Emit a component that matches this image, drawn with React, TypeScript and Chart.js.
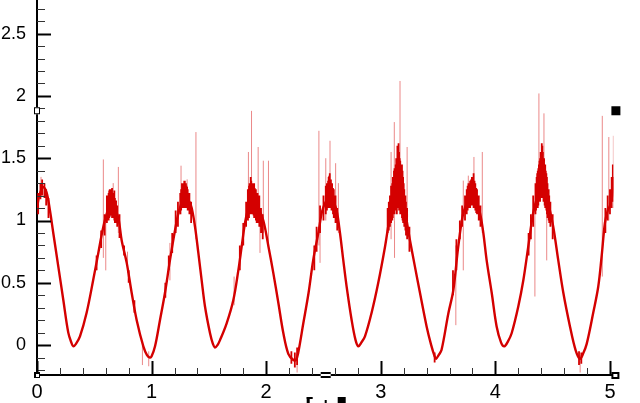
import React, { useEffect, useRef } from "react";
import { Chart, registerables } from "chart.js";

Chart.register(...registerables);

// ---- Data ----
const curveX = [
  0.0, 0.02, 0.055, 0.085, 0.113, 0.142, 0.186, 0.23, 0.273, 0.3, 0.317, 0.34, 0.375, 0.433, 0.49, 0.535, 0.579,
  0.622, 0.652, 0.68, 0.71, 0.739, 0.783, 0.826, 0.87, 0.928, 0.96, 0.985, 1.0, 1.03, 1.073, 1.117, 1.16, 1.204,
  1.24, 1.29, 1.33, 1.35, 1.379, 1.408, 1.437, 1.466, 1.51, 1.535, 1.553, 1.575, 1.597, 1.655, 1.713, 1.757, 1.786,
  1.815, 1.845, 1.873, 1.905, 1.93, 1.975, 2.02, 2.062, 2.106, 2.15, 2.193, 2.237, 2.26, 2.28, 2.324, 2.37, 2.41,
  2.455, 2.49, 2.53, 2.557, 2.585, 2.615, 2.644, 2.673, 2.702, 2.746, 2.78, 2.804, 2.83, 2.862, 2.92, 2.978, 3.037,
  3.08, 3.12, 3.153, 3.185, 3.21, 3.255, 3.298, 3.342, 3.4, 3.44, 3.47, 3.482, 3.505, 3.53, 3.59, 3.633, 3.676,
  3.72, 3.764, 3.807, 3.84, 3.866, 3.895, 3.924, 3.968, 4.011, 4.05, 4.078, 4.11, 4.142, 4.2, 4.244, 4.287, 4.33,
  4.375, 4.41, 4.44, 4.462, 4.505, 4.549, 4.593, 4.651, 4.7, 4.738, 4.765, 4.797, 4.854, 4.898, 4.927, 4.956, 4.98,
  5.0, 5.02, 5.03,
];
const curveY = [
  1.1, 1.2, 1.27, 1.22, 1.08, 0.9, 0.63, 0.36, 0.1, 0.02, -0.01, 0.01, 0.07, 0.26, 0.52, 0.74, 0.95,
  1.09, 1.12, 1.09, 1.02, 0.84, 0.66, 0.42, 0.2, -0.01, -0.08, -0.1, -0.09, -0.01, 0.2, 0.42, 0.68, 0.92,
  1.08, 1.19, 1.15, 1.1, 0.95, 0.74, 0.52, 0.31, 0.095, 0.01, -0.02, 0.0, 0.04, 0.175, 0.36, 0.6, 0.79,
  0.98, 1.1, 1.14, 1.12, 1.1, 1.0, 0.79, 0.58, 0.34, 0.095, -0.07, -0.12, -0.12, -0.06, 0.175, 0.42, 0.68,
  0.9, 1.08, 1.17, 1.21, 1.16, 1.08, 0.9, 0.68, 0.47, 0.2, 0.04, -0.01, 0.02, 0.07, 0.26, 0.5, 0.79,
  1.03, 1.17, 1.22, 1.17, 1.08, 0.84, 0.63, 0.42, 0.15, 0.0, -0.09, -0.11, -0.08, -0.04, 0.256, 0.44, 0.79,
  1.06, 1.16, 1.19, 1.13, 1.06, 0.9, 0.68, 0.42, 0.15, 0.02, -0.01, 0.03, 0.095, 0.31, 0.52, 0.79, 1.06,
  1.22, 1.3, 1.22, 1.14, 0.95, 0.68, 0.42, 0.15, -0.04, -0.11, -0.07, 0.01, 0.26, 0.47, 0.71, 0.98, 1.08,
  1.12, 1.2, 1.35,
];

// dense noise band (short dark strokes)
const fuzzX = [
  0.01, 0.03, 0.045, 0.065, 0.08, 0.1,
  0.52, 0.56, 0.59, 0.61, 0.625, 0.635, 0.645, 0.655, 0.665, 0.675, 0.69, 0.7, 0.72, 0.76, 0.8, 0.85,
  1.12, 1.15, 1.18, 1.21, 1.23, 1.25, 1.265, 1.275, 1.285, 1.295, 1.305, 1.315, 1.33, 1.345,
  1.77, 1.8, 1.825, 1.84, 1.855, 1.865, 1.875, 1.885, 1.895, 1.91, 1.925, 1.94, 1.955, 1.97,
  2.22, 2.25, 2.27, 2.42, 2.44, 2.47, 2.5, 2.52, 2.535, 2.545, 2.555, 2.565, 2.575, 2.59, 2.605, 2.62,
  3.06, 3.08, 3.1, 3.115, 3.13, 3.14, 3.15, 3.16, 3.17, 3.18, 3.19, 3.2, 3.215, 3.23, 3.25,
  3.47, 3.63, 3.66, 3.69, 3.71, 3.735, 3.75, 3.765, 3.78, 3.795, 3.81, 3.825, 3.84, 3.855, 3.87,
  4.29, 4.31, 4.33, 4.35, 4.36, 4.37, 4.38, 4.39, 4.4, 4.41, 4.42, 4.43, 4.44, 4.45, 4.465, 4.48, 4.5,
  4.73, 4.75, 4.96, 4.98, 5.0, 5.015, 5.025,
  3.07, 3.09, 3.105, 3.12, 3.135, 3.145, 3.155, 3.165, 3.175, 3.185, 3.195, 3.205, 3.22,
  4.355, 4.365, 4.375, 4.385, 4.395, 4.405, 4.415, 4.425, 4.435, 4.445, 4.455, 4.47,
  1.85, 1.86, 1.87, 1.88, 1.89, 1.9, 1.917,
  2.53, 2.54, 2.55, 2.56, 2.57, 2.583,
  3.758, 3.772, 3.788, 3.803, 3.818, 3.833,
  1.258, 1.27, 1.28, 1.29, 1.3, 1.31,
  0.618, 0.63, 0.64, 0.65, 0.66, 0.67, 0.68,
];
const fuzzLo = [
  1.05, 1.17, 1.2, 1.18, 1.12, 1.02,
  0.6, 0.78, 0.88, 0.98, 1.0, 1.03, 1.05, 1.02, 1.04, 1.0, 0.98, 0.95, 0.86, 0.72, 0.5, 0.26,
  0.38, 0.6, 0.74, 0.9, 0.95, 1.05, 1.1, 1.12, 1.1, 1.12, 1.1, 1.08, 1.05, 0.98,
  0.6, 0.8, 0.95, 1.0, 1.05, 1.08, 1.05, 1.06, 1.02, 1.0, 0.98, 0.95, 0.9, 0.85,
  -0.15, -0.18, -0.16, 0.6, 0.75, 0.9, 1.0, 1.05, 1.1, 1.12, 1.1, 1.12, 1.08, 1.02, 0.98, 0.92,
  0.9, 0.95, 1.0, 1.05, 1.08, 1.05, 1.1, 1.08, 1.05, 1.05, 1.0, 0.98, 0.92, 0.85, 0.75,
  -0.14, 0.4, 0.6, 0.85, 0.95, 1.0, 1.05, 1.1, 1.1, 1.12, 1.1, 1.08, 1.05, 1.0, 0.95,
  0.72, 0.85, 0.95, 1.05, 1.1, 1.1, 1.15, 1.15, 1.2, 1.18, 1.15, 1.12, 1.1, 1.05, 1.0, 0.95, 0.85,
  -0.16, -0.15, 0.9, 1.0, 1.05, 1.1, 1.15,
  0.92, 0.98, 1.02, 1.05, 1.08, 1.1, 1.12, 1.1, 1.05, 1.02, 0.98, 0.95, 0.88,
  1.08, 1.12, 1.12, 1.15, 1.18, 1.2, 1.18, 1.15, 1.1, 1.08, 1.02, 0.98,
  1.02, 1.05, 1.08, 1.06, 1.04, 1.02, 0.98,
  1.08, 1.1, 1.12, 1.1, 1.08, 1.05,
  1.08, 1.1, 1.12, 1.12, 1.1, 1.06,
  1.08, 1.1, 1.12, 1.12, 1.1, 1.1,
  1.0, 1.02, 1.04, 1.04, 1.03, 1.02, 0.98,
];
const fuzzHi = [
  1.22, 1.3, 1.33, 1.3, 1.25, 1.18,
  0.72, 0.92, 1.05, 1.2, 1.22, 1.25, 1.2, 1.26, 1.22, 1.24, 1.16, 1.12, 1.05, 0.8, 0.6, 0.36,
  0.5, 0.72, 0.9, 1.08, 1.15, 1.22, 1.3, 1.28, 1.32, 1.3, 1.28, 1.25, 1.22, 1.15,
  0.8, 0.98, 1.15, 1.25, 1.3, 1.35, 1.3, 1.28, 1.3, 1.25, 1.22, 1.2, 1.1, 1.05,
  -0.05, -0.06, -0.02, 0.8, 0.95, 1.12, 1.2, 1.28, 1.3, 1.35, 1.38, 1.33, 1.3, 1.25, 1.2, 1.1,
  1.1, 1.2, 1.3, 1.4, 1.45, 1.5, 1.52, 1.55, 1.48, 1.42, 1.4, 1.3, 1.2, 1.1, 0.95,
  -0.06, 0.6, 0.85, 1.0, 1.12, 1.2, 1.25, 1.3, 1.32, 1.35, 1.38, 1.3, 1.25, 1.2, 1.12,
  0.9, 1.05, 1.2, 1.3, 1.35, 1.4, 1.45, 1.5, 1.55, 1.6, 1.5, 1.45, 1.4, 1.35, 1.25, 1.15, 1.05,
  -0.05, -0.06, 1.1, 1.2, 1.25, 1.35, 1.45,
  1.15, 1.28, 1.35, 1.42, 1.5, 1.6, 1.62, 1.5, 1.45, 1.45, 1.35, 1.25, 1.15,
  1.3, 1.38, 1.42, 1.48, 1.55, 1.62, 1.55, 1.5, 1.45, 1.38, 1.3, 1.2,
  1.28, 1.3, 1.32, 1.3, 1.28, 1.26, 1.22,
  1.3, 1.32, 1.36, 1.33, 1.3, 1.26,
  1.28, 1.3, 1.33, 1.35, 1.32, 1.26,
  1.25, 1.3, 1.3, 1.32, 1.3, 1.27,
  1.2, 1.24, 1.22, 1.25, 1.22, 1.22, 1.18,
];

// isolated thin spikes (light strokes)
const spikeX = [
  0.035, 0.579, 0.6, 0.665, 0.71, 0.79, 0.92, 0.975, 1.16, 1.257, 1.31, 1.387, 1.72, 1.845, 1.872, 1.93, 1.946,
  1.975, 2.02, 2.27, 2.46, 2.47, 2.52, 2.557, 2.606, 2.63, 3.09, 3.118, 3.12, 3.168, 3.23, 3.655, 3.72, 3.764,
  3.813, 3.886, 4.345, 4.38, 4.424, 4.448, 4.74, 4.933, 4.99, 5.03,
];
const spikeLo = [
  1.2, 0.7, 0.6, 1.05, 0.9, 0.58, -0.16, -0.17, 0.52, 1.05, 1.1, 0.85, 0.32, 1.0, 1.1, 1.0, 0.74,
  0.9, 0.79, -0.22, 0.8, 0.66, 1.0, 1.15, 1.0, 0.9, 0.85, 1.0, 0.7, 1.2, 1.0, 0.16, 0.6, 1.1,
  1.1, 0.9, 0.39, 1.2, 1.2, 0.68, -0.22, 0.55, 1.0, 1.1,
];
const spikeHi = [
  1.35, 1.49, 1.0, 1.3, 1.43, 0.75, 0.0, -0.05, 0.82, 1.44, 1.33, 1.71, 0.55, 1.55, 1.88, 1.59, 1.1,
  1.48, 1.48, -0.05, 1.72, 1.0, 1.5, 1.64, 1.46, 1.3, 1.55, 1.79, 1.0, 2.12, 1.59, 0.8, 1.32, 1.36,
  1.51, 1.55, 1.1, 2.02, 1.86, 1.2, -0.08, 1.84, 1.67, 1.68,
];

const xTickValues = [0, 1, 2, 3, 4, 5];
const yTickValues = [0, 0.5, 1, 1.5, 2, 2.5];
const xRange = [0, 5.03];
const yRange = [-0.24, 2.77];

const segments = (xs: number[], lo: number[], hi: number[]) => {
  const out: { x: number; y: number | null }[] = [];
  xs.forEach((x, i) => {
    out.push({ x, y: lo[i] });
    out.push({ x, y: hi[i] });
    out.push({ x, y: null });
  });
  return out;
};

const axisDecor = {
  id: "axisDecor",
  afterDraw(chart: any) {
    const { ctx, chartArea, scales } = chart;
    const xs = scales.x;
    const ys = scales.y;
    const L = chartArea.left;
    const B = chartArea.bottom;
    ctx.save();
    ctx.strokeStyle = "#000";
    for (let i = -2; i <= 27; i++) {
      const v = i / 10;
      const py = Math.round(ys.getPixelForValue(v)) + 0.5;
      const major = i % 5 === 0;
      ctx.lineWidth = major ? 2 : 1;
      ctx.strokeStyle = major ? "#000" : "#333";
      ctx.beginPath();
      ctx.moveTo(L, py);
      ctx.lineTo(L + (major ? 14 : 8), py);
      ctx.stroke();
    }
    for (let i = 0; i <= 25; i++) {
      const v = i / 5;
      const px = Math.round(xs.getPixelForValue(v)) + 0.5;
      const major = i % 5 === 0;
      ctx.lineWidth = major ? 2 : 1;
      ctx.strokeStyle = major ? "#000" : "#333";
      ctx.beginPath();
      ctx.moveTo(px, B);
      ctx.lineTo(px, B - (major ? 14 : 7));
      ctx.stroke();
    }
    const hy = ys.getPixelForValue(1.885);
    const R = chartArea.right;
    ctx.lineWidth = 1;
    ctx.fillStyle = "#fff";
    ctx.strokeStyle = "#000";
    ctx.fillRect(L - 3, hy - 3, 6, 7);
    ctx.strokeRect(L - 2.5, hy - 2.5, 5, 6);
    ctx.fillStyle = "#000";
    ctx.fillRect(R - 2, hy - 4, 9, 9);
    ctx.fillRect(L - 3, B - 3, 6, 6);
    ctx.fillStyle = "#fff";
    ctx.fillRect(L - 1, B - 1, 3, 3);
    ctx.fillStyle = "#000";
    ctx.fillRect(R - 2, B - 3, 8, 7);
    ctx.fillStyle = "#fff";
    ctx.fillRect(R, B - 1, 4, 3);
    const mx = (L + R) / 2 + 0.5;
    ctx.fillStyle = "#fff";
    ctx.fillRect(mx - 5, B - 3, 10, 7);
    ctx.fillStyle = "#000";
    ctx.fillRect(mx - 5, B - 3, 10, 2);
    ctx.fillRect(mx - 5, B + 1, 10, 2);
    ctx.fillRect(mx - 19, 397, 3, 6);
    ctx.fillRect(mx - 19, 397, 6, 2);
    ctx.fillRect(mx - 1, 400, 2, 3);
    ctx.fillRect(mx + 12, 397, 8, 6);
    ctx.restore();
  },
};

export default function App() {
  const ref = useRef<HTMLCanvasElement | null>(null);
  useEffect(() => {
    if (!ref.current) return;
    const chart = new Chart(ref.current, {
      type: "scatter",
      data: {
        datasets: [
          {
            data: curveX.map((x, i) => ({ x, y: curveY[i] })),
            showLine: true,
            borderColor: "#d40000",
            borderWidth: 2.4,
            pointRadius: 0,
            tension: 0.35,
          },
          {
            data: segments(fuzzX, fuzzLo, fuzzHi),
            showLine: true,
            borderColor: "#d40000",
            borderWidth: 1.8,
            pointRadius: 0,
            spanGaps: false,
          },
          {
            data: segments(spikeX, spikeLo, spikeHi),
            showLine: true,
            borderColor: "rgba(215,20,20,0.5)",
            borderWidth: 1,
            pointRadius: 0,
            spanGaps: false,
          },
        ] as any,
      },
      options: {
        animation: false,
        responsive: false,
        layout: { padding: { left: 0, right: 26.6, top: 0, bottom: 0 } },
        plugins: { legend: { display: false }, tooltip: { enabled: false } },
        scales: {
          x: {
            type: "linear",
            min: xRange[0],
            max: xRange[1],
            afterBuildTicks: (s: any) => {
              s.ticks = xTickValues.map((v) => ({ value: v }));
            },
            afterFit: (s: any) => {
              s.height = 28;
              s.paddingLeft = 0;
              s.paddingRight = 0;
            },
            grid: { display: false, drawTicks: false },
            border: { display: true, color: "#000", width: 2 },
            ticks: {
              color: "#000",
              padding: 5,
              maxRotation: 0,
              autoSkip: false,
              font: { family: "'Liberation Sans', Arial, sans-serif", size: 20 },
              callback: (v: any) => String(v),
            },
          },
          y: {
            type: "linear",
            min: yRange[0],
            max: yRange[1],
            afterBuildTicks: (s: any) => {
              s.ticks = yTickValues.map((v) => ({ value: v }));
            },
            afterFit: (s: any) => {
              s.width = 37;
              s.paddingTop = 0;
              s.paddingBottom = 0;
            },
            grid: { display: false, drawTicks: false },
            border: { display: true, color: "#000", width: 2 },
            ticks: {
              color: "#000",
              padding: 11,
              autoSkip: false,
              font: { family: "'Liberation Sans', Arial, sans-serif", size: 18 },
              callback: (v: any) => String(v),
            },
          },
        },
      },
      plugins: [axisDecor],
    });
    return () => chart.destroy();
  }, []);
  return (
    <div style={{ position: "absolute", left: 0, top: 0, width: 640, height: 403, background: "#fff" }}>
      <canvas ref={ref} width={640} height={403} style={{ display: "block" }} />
    </div>
  );
}
